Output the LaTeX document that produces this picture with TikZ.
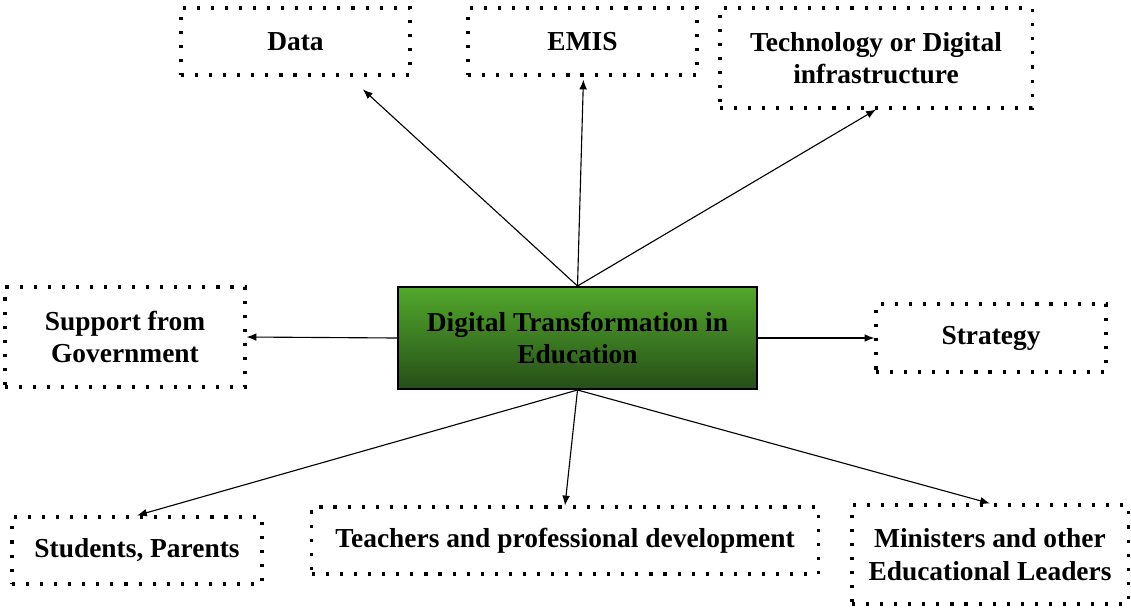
\documentclass[tikz,border=0pt]{standalone}
\usepackage{fontspec}
\setmainfont{Liberation Serif}
\usetikzlibrary{calc}
\usetikzlibrary{arrows.meta}
\usepackage{xcolor}

\definecolor{greentop}{RGB}{82,168,44}
\definecolor{greenbot}{RGB}{38,78,24}

\tikzset{
  box/.style={draw=black, line width=2.2pt, dash pattern=on 2.2pt off 7.8pt,
    align=center, inner sep=0pt, font=\fontsize{19.5}{23}\selectfont\bfseries},
  hub/.style={draw=black, line width=1.4pt, top color=greentop, bottom color=greenbot,
    align=center, inner sep=0pt, font=\fontsize{19.5}{23}\selectfont\bfseries},
  link/.style={-{Latex[length=7pt,width=5.5pt]}, line width=0.8pt}
}

\begin{document}
\begin{tikzpicture}[x=0.025cm,y=-0.025cm]
\useasboundingbox (0,0) rectangle (1131,607);
% centre
\node[hub, minimum width=8.975cm, minimum height=2.55cm] (dte) at (577.5,338) {Digital Transformation in\\Education};
% top row
\node[box, minimum width=5.725cm, minimum height=1.675cm] (data) at (295.5,41.5) {Data};
\node[box, minimum width=5.725cm, minimum height=1.675cm] (emis) at (582.5,41.5) {EMIS};
\node[box, minimum width=7.8cm, minimum height=2.5cm] (tech) at (876,58) {Technology or Digital\\infrastructure};
% sides
\node[box, minimum width=6cm, minimum height=2.5cm] (gov) at (125,337) {Support from\\Government};
\node[box, minimum width=5.75cm, minimum height=1.7cm] (strat) at (991,338) {Strategy};
% bottom row
\node[box, minimum width=6.25cm, minimum height=1.675cm] (stud) at (137,550.5) {Students, Parents};
\node[box, minimum width=12.65cm, minimum height=1.675cm] (teach) at (565,540.5) {Teachers and professional development};
\node[box, minimum width=6.9cm, minimum height=2.475cm] (min) at (990,554.5) {Ministers and other\\Educational Leaders};

\draw[link, shorten >=19*0.025cm] (dte.north) -- ($(data.south west)!0.73!(data.south east)$);
\draw[link, shorten >=3*0.025cm] (dte.north) -- ($(emis.south)+(1,0)$);
\draw[link] (dte.north) -- (tech.south);
\draw[link] (dte.west) -- (gov.east);
\draw[link] (dte.east) -- (strat.west);
\draw[link] (dte.south) -- (stud.north);
\draw[link] (dte.south) -- (teach.north);
\draw[link] (dte.south) -- (min.north);
\end{tikzpicture}
\end{document}
